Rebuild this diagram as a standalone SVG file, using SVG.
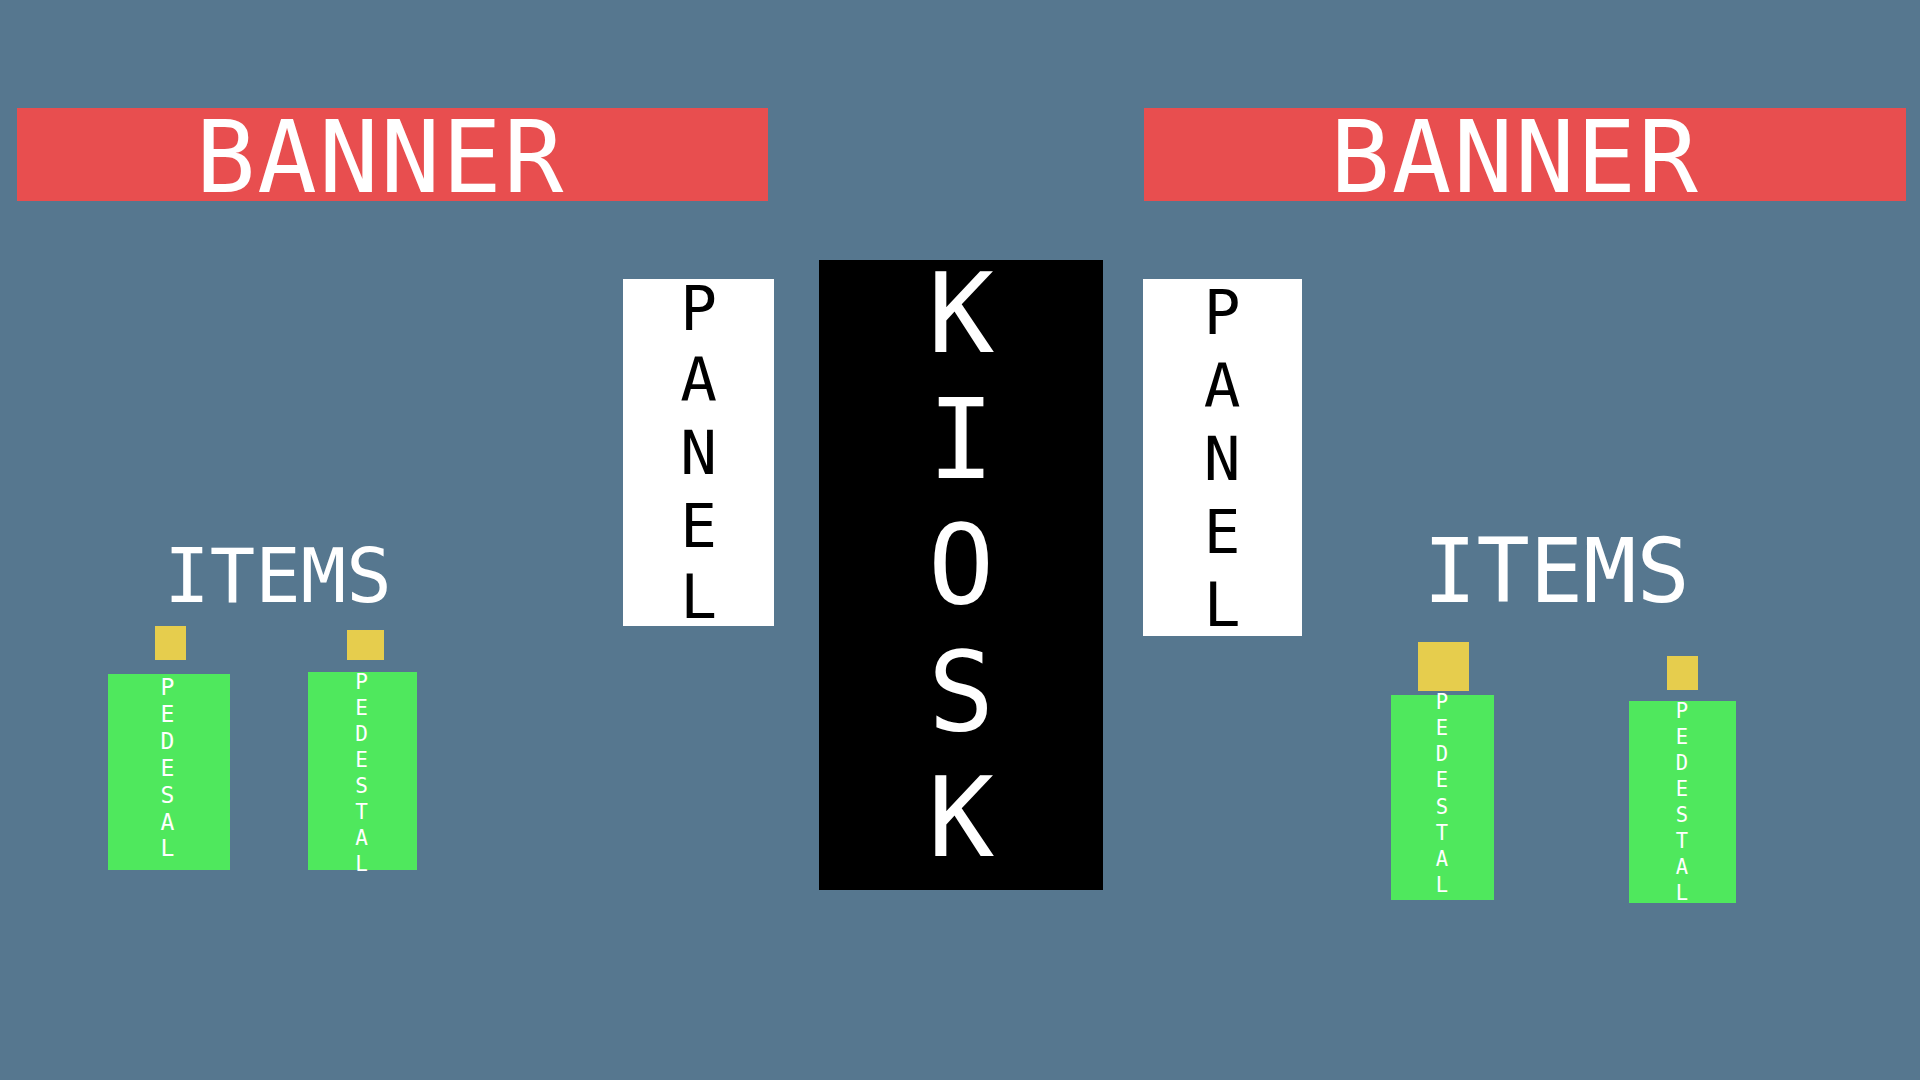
<svg xmlns="http://www.w3.org/2000/svg" width="1920" height="1080" viewBox="0 0 1920 1080">
<style>
text{font-family:"DejaVu Sans Mono","Liberation Mono",monospace;text-anchor:middle}
.banner{fill:#E84E4F}
.bt{fill:#FFFFFF;font-size:99px;letter-spacing:2px}
.panel{fill:#FFFFFF}
.pt{fill:#000000;font-size:61px}
.kiosk{fill:#000000}
.kt{fill:#FFFFFF;font-size:110px}
.items{fill:#FFFFFF}
.item{fill:#E6CD4D}
.ped{fill:#4FE85D}
.pdt{fill:#FFFFFF}
</style>
<rect width="1920" height="1080" fill="#56778F"/>
<g id="banner-left">
<rect class="banner" x="17" y="108" width="751" height="93"/>
<text class="bt" x="380.5" y="192">BANNER</text>
</g>
<g id="banner-right">
<rect class="banner" x="1144" y="108" width="762" height="93"/>
<text class="bt" x="1515" y="192">BANNER</text>
</g>
<g id="panel-left">
<rect class="panel" x="623" y="279" width="151" height="347"/>
<text class="pt"><tspan x="698.5" y="329.6">P</tspan><tspan x="698.5" y="401.3">A</tspan><tspan x="698.5" y="473.9">N</tspan><tspan x="698.5" y="546.8">E</tspan><tspan x="698.5" y="618.2">L</tspan></text>
</g>
<g id="kiosk">
<rect class="kiosk" x="819" y="260" width="284" height="630"/>
<text class="kt"><tspan x="961" y="352">K</tspan><tspan x="961" y="478">I</tspan><tspan x="961" y="603">O</tspan><tspan x="961" y="730">S</tspan><tspan x="961" y="856">K</tspan></text>
</g>
<g id="panel-right">
<rect class="panel" x="1143" y="279" width="159" height="357"/>
<text class="pt"><tspan x="1222" y="333.7">P</tspan><tspan x="1222" y="406.7">A</tspan><tspan x="1222" y="480">N</tspan><tspan x="1222" y="552.6">E</tspan><tspan x="1222" y="626">L</tspan></text>
</g>
<g id="items-left">
<text class="items" x="278" y="601.7" font-size="75.5">ITEMS</text>
</g>
<g id="items-right">
<text class="items" x="1556.5" y="602" font-size="88.5">ITEMS</text>
</g>
<g id="item-l1">
<rect class="item" x="155" y="626" width="31" height="34"/>
</g>
<g id="pedestal-l1">
<rect class="ped" x="108" y="674" width="122" height="196"/>
<text class="pdt" font-size="23"><tspan x="167.5" y="695">P</tspan><tspan x="167.5" y="721.9">E</tspan><tspan x="167.5" y="748.8">D</tspan><tspan x="167.5" y="775.7">E</tspan><tspan x="167.5" y="802.6">S</tspan><tspan x="167.5" y="829.5">A</tspan><tspan x="167.5" y="856.4">L</tspan></text>
</g>
<g id="item-l2">
<rect class="item" x="347" y="630" width="37" height="30"/>
</g>
<g id="pedestal-l2">
<rect class="ped" x="308" y="672" width="109" height="198"/>
<text class="pdt" font-size="21"><tspan x="361.5" y="689.3">P</tspan><tspan x="361.5" y="715.2">E</tspan><tspan x="361.5" y="741.1">D</tspan><tspan x="361.5" y="767">E</tspan><tspan x="361.5" y="792.9">S</tspan><tspan x="361.5" y="818.8">T</tspan><tspan x="361.5" y="844.7">A</tspan><tspan x="361.5" y="870.6">L</tspan></text>
</g>
<g id="item-r1">
<rect class="item" x="1418" y="642" width="51" height="49"/>
</g>
<g id="pedestal-r1">
<rect class="ped" x="1391" y="695" width="103" height="205"/>
<text class="pdt" font-size="20.5"><tspan x="1442" y="709.3">P</tspan><tspan x="1442" y="735.3">E</tspan><tspan x="1442" y="761.4">D</tspan><tspan x="1442" y="787.4">E</tspan><tspan x="1442" y="813.5">S</tspan><tspan x="1442" y="839.5">T</tspan><tspan x="1442" y="865.6">A</tspan><tspan x="1442" y="891.6">L</tspan></text>
</g>
<g id="item-r2">
<rect class="item" x="1667" y="656" width="31" height="34"/>
</g>
<g id="pedestal-r2">
<rect class="ped" x="1629" y="701" width="107" height="202"/>
<text class="pdt" font-size="20.5"><tspan x="1682" y="717.7">P</tspan><tspan x="1682" y="743.7">E</tspan><tspan x="1682" y="769.7">D</tspan><tspan x="1682" y="795.7">E</tspan><tspan x="1682" y="821.7">S</tspan><tspan x="1682" y="847.7">T</tspan><tspan x="1682" y="873.7">A</tspan><tspan x="1682" y="899.7">L</tspan></text>
</g>
<g id="connectors"></g>
</svg>
